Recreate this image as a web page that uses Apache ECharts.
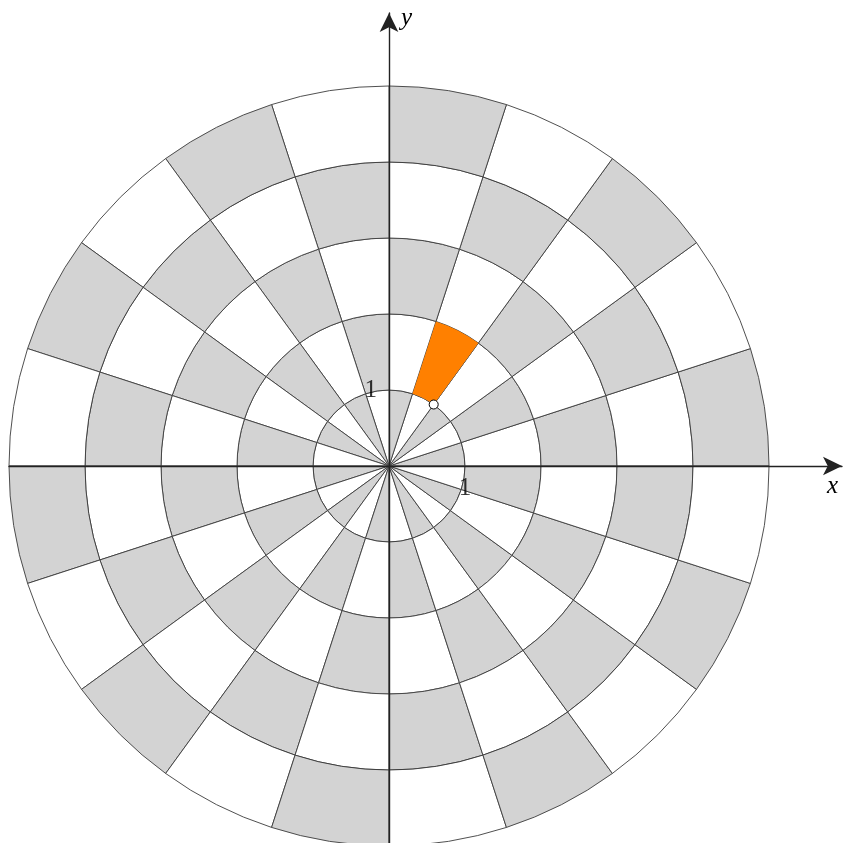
<!DOCTYPE html>
<html>
<head>
<meta charset="utf-8">
<script src="https://cdn.jsdelivr.net/npm/echarts@6/dist/echarts.min.js"></script>
<style>
  html, body { margin: 0; padding: 0; background: #fff; }
  #main { width: 857px; height: 843px; }
</style>
</head>
<body>
<div id="main"></div>
<script>
// ring boundaries (radius units) and sector start angles (degrees)
const ringRadii = [0, 1, 2, 3, 4, 5]
const sectorAngles = [0, 18, 36, 54, 72, 90, 108, 126, 144, 162, 180, 198, 216, 234, 252, 270, 288, 306, 324, 342]
const sectorStep = 18
// the orange cell: [ring index, sector index]
const highlightCell = [1, 3]
// marked point in polar form: [r, angle in degrees]
const markedPoint = [1, 54]
const xTicks = [1]
const yTicks = [1]

const chart = echarts.init(document.getElementById('main'))

// build cells, checkerboard shading: 0 white, 1 gray, 2 orange
const cells = []
let orange = null
for (let i = 0; i < ringRadii.length - 1; i++) {
  sectorAngles.forEach((a, j) => {
    const row = [ringRadii[i], ringRadii[i + 1], a, a + sectorStep, (i + j) % 2 === 0 ? 1 : 0]
    if (i === highlightCell[0] && j === highlightCell[1]) {
      orange = row.slice()
      orange[4] = 2
    }
    cells.push(row)
  })
}
cells.push(orange)

const fills = ['#ffffff', '#d3d3d3', '#ff8000']
const rad = markedPoint[1] * Math.PI / 180
const pointXY = [markedPoint[0] * Math.cos(rad), markedPoint[0] * Math.sin(rad)]

const labelFont = { fontFamily: 'Liberation Serif', fontSize: 25, color: '#000' }

const axisCommon = {
  type: 'value', z: 5,
  splitLine: { show: false },
  axisTick: { show: false },
  axisLabel: { show: false },
  axisLine: {
    onZero: true, symbol: ['none', 'arrow'], symbolSize: [14, 19],
    lineStyle: { color: '#222', width: 1.4 }
  }
}

chart.setOption({
  backgroundColor: '#fff',
  animation: false,
  grid: { left: 9, right: 15, top: 13, bottom: 0, outerBoundsMode: 'none', containLabel: false },
  xAxis: {
    ...axisCommon, min: -5, max: 5.96,
    name: 'x', nameLocation: 'end', nameGap: -15,
    nameTextStyle: { ...labelFont, fontStyle: 'italic', verticalAlign: 'top', padding: [8, 0, 0, 0] }
  },
  yAxis: {
    ...axisCommon, min: -4.96, max: 5.96,
    name: 'y', nameLocation: 'end', nameGap: -5,
    nameTextStyle: { ...labelFont, fontStyle: 'italic', align: 'left', verticalAlign: 'middle', padding: [0, 0, 0, 12] }
  },
  series: [
    {
      type: 'custom',
      z: 1,
      data: cells,
      renderItem: function (params, api) {
        const o = api.coord([0, 0])
        const unit = api.size([1, 1])[0]
        const code = api.value(4)
        return {
          type: 'sector',
          shape: {
            cx: o[0], cy: o[1],
            r0: api.value(0) * unit, r: api.value(1) * unit,
            startAngle: -api.value(3) * Math.PI / 180,
            endAngle: -api.value(2) * Math.PI / 180,
            clockwise: true
          },
          style: {
            fill: fills[code],
            stroke: code === 2 ? null : '#3c3c3c',
            lineWidth: 0.9
          }
        }
      }
    },
    {
      type: 'scatter',
      z: 10,
      data: [pointXY],
      symbol: 'circle',
      symbolSize: 9,
      itemStyle: { color: '#fff', borderColor: '#000', borderWidth: 1, opacity: 1 }
    },
    // tick labels on the axes
    {
      type: 'scatter', z: 11, symbolSize: 0, silent: true,
      data: xTicks.map(v => [v, 0]),
      label: { show: true, position: 'bottom', distance: 10, formatter: p => String(p.value[0]), ...labelFont }
    },
    {
      type: 'scatter', z: 11, symbolSize: 0, silent: true,
      data: yTicks.map(v => [0, v]),
      label: { show: true, position: 'left', distance: 12, formatter: p => String(p.value[1]), ...labelFont }
    }
  ]
})
</script>
</body>
</html>
